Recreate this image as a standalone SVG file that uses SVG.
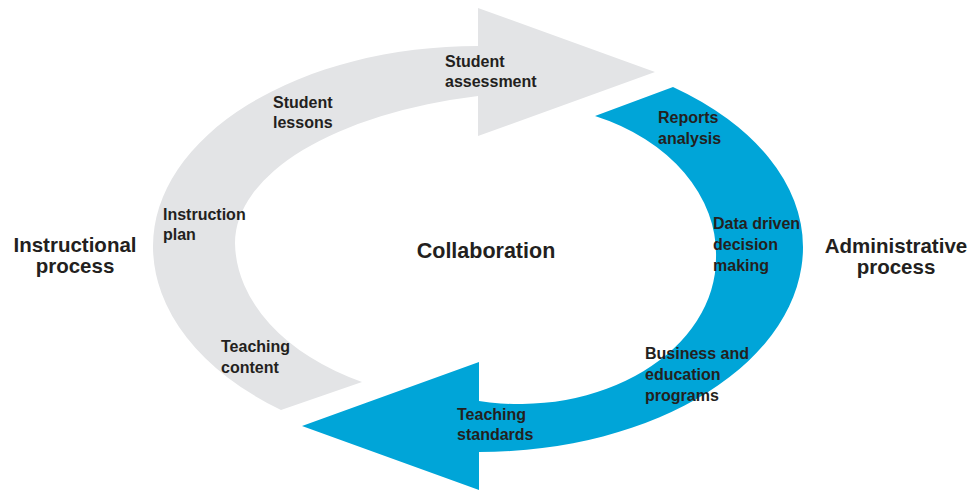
<svg xmlns="http://www.w3.org/2000/svg" width="977" height="491" viewBox="0 0 977 491">
  <style>
    .lbl { font-family: "Liberation Sans", Arial, sans-serif; font-weight: bold; font-size: 16px; fill: #231f20; }
    .big { font-family: "Liberation Sans", Arial, sans-serif; font-weight: bold; font-size: 20.5px; fill: #231f20; text-anchor: middle; }
    .gray { fill: #e3e4e6; }
    .blue { fill: #00a5d8; }
  </style>
  <rect width="977" height="491" fill="#ffffff"/>

  <!-- Instructional cycle: grey curved arrow, counter-clockwise, pointing right at the top -->
  <g id="instructional-arrow">
    <path class="gray" d="M 478 46 A 325 200 0 0 0 153 246 A 325 206 0 0 0 281 410 L 362 382 A 243 160 0 0 1 235 243 A 325 152 0 0 1 478 96 L 478 136 L 655 72 L 478 8 Z"/>
  </g>

  <!-- Administrative cycle: blue curved arrow, clockwise, pointing left at the bottom -->
  <g id="administrative-arrow">
    <path class="blue" d="M 673 87 A 324 200 0 0 1 803 247 A 324 205 0 0 1 479 452 L 479 490 L 302 426 L 479 362 L 479 401 A 197 146 0 0 0 716 258 A 197 150 0 0 0 595 116 Z"/>
  </g>

  <!-- Steps along the grey arrow -->
  <g id="student-assessment">
    <text class="lbl" x="445" y="67">Student</text>
    <text class="lbl" x="445" y="87">assessment</text>
  </g>
  <g id="student-lessons">
    <text class="lbl" x="273" y="108">Student</text>
    <text class="lbl" x="273" y="128">lessons</text>
  </g>
  <g id="instruction-plan">
    <text class="lbl" x="163" y="220">Instruction</text>
    <text class="lbl" x="163" y="240">plan</text>
  </g>
  <g id="teaching-content">
    <text class="lbl" x="221" y="352">Teaching</text>
    <text class="lbl" x="221" y="373">content</text>
  </g>

  <!-- Steps along the blue arrow -->
  <g id="reports-analysis">
    <text class="lbl" x="658" y="123">Reports</text>
    <text class="lbl" x="658" y="144">analysis</text>
  </g>
  <g id="data-driven">
    <text class="lbl" x="713" y="229">Data driven</text>
    <text class="lbl" x="713" y="250">decision</text>
    <text class="lbl" x="713" y="271">making</text>
  </g>
  <g id="business-education">
    <text class="lbl" x="645" y="359">Business and</text>
    <text class="lbl" x="645" y="380">education</text>
    <text class="lbl" x="645" y="401">programs</text>
  </g>
  <g id="teaching-standards">
    <text class="lbl" x="457" y="420">Teaching</text>
    <text class="lbl" x="457" y="440">standards</text>
  </g>

  <!-- Side and centre titles -->
  <g id="instructional-process">
    <text class="big" x="75" y="252">Instructional</text>
    <text class="big" x="75" y="273">process</text>
  </g>
  <g id="administrative-process">
    <text class="big" x="896" y="253">Administrative</text>
    <text class="big" x="896" y="274">process</text>
  </g>
  <g id="collaboration">
    <text class="big" x="486" y="258" style="font-size:21.5px">Collaboration</text>
  </g>
</svg>
